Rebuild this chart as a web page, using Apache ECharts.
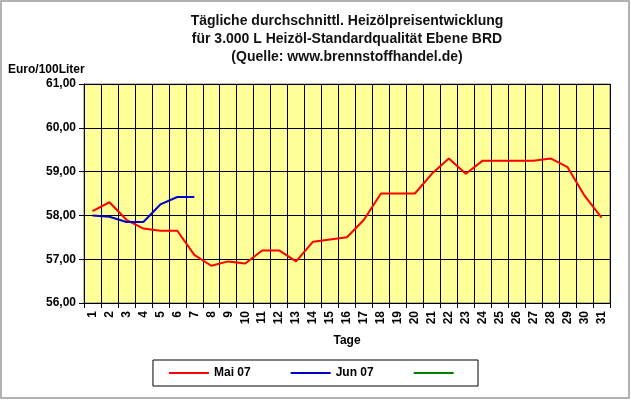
<!DOCTYPE html><html><head><meta charset="utf-8"><script src="https://cdn.jsdelivr.net/npm/echarts@6/dist/echarts.min.js"></script></head>
<body style="margin:0;background:#fff"><div id="c" style="width:631px;height:400px;"></div>
<script>
const days = Array.from({length:31},(_,i)=>String(i+1));
const mai07 = [58.1,58.3,57.9,57.7,57.65,57.65,57.1,56.85,56.95,56.9,57.2,57.2,56.95,57.4,57.45,57.5,57.9,58.5,58.5,58.5,58.95,59.3,58.95,59.25,59.25,59.25,59.25,59.3,59.1,58.45,57.95];
const jun07 = [58.0,57.97,57.85,57.85,58.25,58.42,58.42];
const yTicks = {min:56,max:61,interval:1};
const chart = echarts.init(document.getElementById('c'));
const f = 'Arial, Liberation Sans, sans-serif';
chart.setOption({
  backgroundColor:'#fff',
  animation:false,
  graphic:[{type:'rect',shape:{x:1,y:1,width:628,height:397},style:{fill:'none',stroke:'#999',lineWidth:1.5}}],
  title:{text:'Tägliche durchschnittl. Heizölpreisentwicklung\nfür 3.000 L Heizöl-Standardqualität Ebene BRD\n(Quelle: www.brennstoffhandel.de)',left:342,textAlign:'center',top:7,textStyle:{fontFamily:f,fontSize:14,fontWeight:'bold',lineHeight:18,color:'#111'}},
  legend:{bottom:14,left:'center',itemWidth:40,itemHeight:2,itemGap:40,borderColor:'#000',borderWidth:1,padding:[7,16],icon:'rect',textStyle:{fontFamily:f,fontSize:12,fontWeight:'bold',color:'#000'},data:['Mai 07','Jun 07',' ']},
  grid:{left:84,right:21,top:84,bottom:97,show:true,backgroundColor:'#FFFF99',borderColor:'#777',borderWidth:1},
  xAxis:{type:'category',data:days,boundaryGap:true,name:'Tage',nameLocation:'middle',nameGap:32,nameTextStyle:{fontFamily:f,fontSize:12,fontWeight:'bold',color:'#000'},
    axisLine:{lineStyle:{color:'#000'}},axisTick:{show:true,alignWithLabel:false,lineStyle:{color:'#000'}},
    axisLabel:{rotate:90,fontFamily:f,fontSize:12,fontWeight:'bold',color:'#000',interval:0},
    splitLine:{show:true,interval:0,lineStyle:{color:'#000',width:1}}},
  yAxis:{type:'value',min:yTicks.min,max:yTicks.max,interval:yTicks.interval,name:'Euro/100Liter',nameLocation:'end',nameGap:8,
    nameTextStyle:{fontFamily:f,fontSize:12,fontWeight:'bold',color:'#000',align:'left',padding:[0,0,0,-76]},
    axisLine:{show:true,lineStyle:{color:'#000'}},axisTick:{show:true,lineStyle:{color:'#000'}},
    axisLabel:{fontFamily:f,fontSize:12,fontWeight:'bold',color:'#000',formatter:v=>v.toFixed(2).replace('.',',')},
    splitLine:{lineStyle:{color:'#000',width:1}}},
  series:[
    {name:'Mai 07',type:'line',data:mai07,symbol:'none',lineStyle:{color:'#FF0000',width:2},itemStyle:{color:'#FF0000'}},
    {name:'Jun 07',type:'line',data:jun07,symbol:'none',lineStyle:{color:'#0000CC',width:2},itemStyle:{color:'#0000CC'}},
    {name:' ',type:'line',data:[],symbol:'none',lineStyle:{color:'#008000',width:2},itemStyle:{color:'#008000'}}
  ]
});
</script></body></html>
